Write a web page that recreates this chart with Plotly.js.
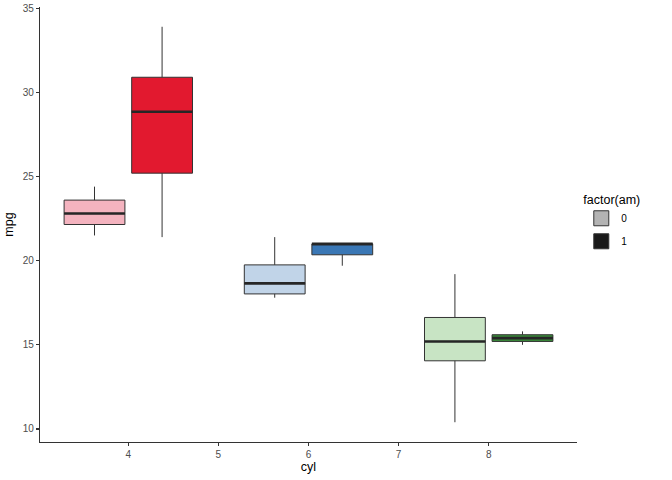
<!DOCTYPE html>
<html>
<head>
<meta charset="utf-8">
<script src="https://cdn.plot.ly/plotly-3.0.1.min.js"></script>
<style>html,body{margin:0;padding:0;background:#fff;}#chart{width:672px;height:480px;}</style>
</head>
<body>
<div id="chart"></div>
<script>
// Categories
const cyl = [4, 6, 8];
const amLevels = ['0', '1'];

// Box statistics for am = 0 (by cyl 4, 6, 8)
const lo_am0  = [21.5, 17.8, 10.4];
const q1_am0  = [22.15, 18.025, 14.05];
const med_am0 = [22.8, 18.65, 15.2];
const q3_am0  = [23.6, 19.75, 16.625];
const hi_am0  = [24.4, 21.4, 19.2];

// Box statistics for am = 1 (by cyl 4, 6, 8)
const lo_am1  = [21.4, 19.7, 15.0];
const q1_am1  = [25.2, 20.35, 15.2];
const med_am1 = [28.85, 21.0, 15.4];
const q3_am1  = [30.9, 21.0, 15.6];
const hi_am1  = [33.9, 21.0, 15.8];

// Fill colours per box
const fill_am0 = ['#f4b3bf', '#c1d4e8', '#c8e4c4'];
const fill_am1 = ['#e2192f', '#3a77b5', '#3a8a3a'];
const legendFill = ['#b3b3b3', '#1a1a1a'];

const yTicks = [10, 15, 20, 25, 30, 35];
const xTicks = [4, 5, 6, 7, 8];

const edge = '#333333';
const traces = [];

function addBoxes(lo, q1, med, q3, hi, fills, grp) {
  for (let i = 0; i < cyl.length; i++) {
    traces.push({
      type: 'box', x: [cyl[i]],
      lowerfence: [lo[i]], q1: [q1[i]], median: [med[i]], q3: [q3[i]], upperfence: [hi[i]],
      fillcolor: fills[i], line: {color: edge, width: 1}, whiskerwidth: 0,
      offsetgroup: grp, alignmentgroup: 'a', showlegend: false, hoverinfo: 'skip'
    });
  }
  // thick median bars (degenerate boxes drawn at the median)
  for (let i = 0; i < cyl.length; i++) {
    traces.push({
      type: 'box', x: [cyl[i]],
      lowerfence: [med[i]], q1: [med[i]], median: [med[i]], q3: [med[i]], upperfence: [med[i]],
      fillcolor: 'rgba(0,0,0,0)', line: {color: '#262626', width: 2.6}, whiskerwidth: 0,
      offsetgroup: grp, alignmentgroup: 'a', showlegend: false, hoverinfo: 'skip'
    });
  }
}
addBoxes(lo_am0, q1_am0, med_am0, q3_am0, hi_am0, fill_am0, '0');
addBoxes(lo_am1, q1_am1, med_am1, q3_am1, hi_am1, fill_am1, '1');

// legend entries (no visible data)
amLevels.forEach((lv, k) => {
  traces.push({
    type: 'scatter', mode: 'markers', x: [null], y: [null], name: lv,
    legendgroup: 'g' + lv,
    marker: {symbol: 'square', size: 15, color: legendFill[k], line: {color: edge, width: 1}},
    showlegend: true, hoverinfo: 'skip'
  });
});

const layout = {
  width: 672, height: 480,
  margin: {l: 40, r: 95, t: 7, b: 38},
  paper_bgcolor: '#ffffff', plot_bgcolor: '#ffffff',
  font: {family: 'Liberation Sans, Arial, sans-serif', color: '#000000'},
  boxmode: 'group', boxgap: 0.25, boxgroupgap: 0.1,
  showlegend: true,
  hovermode: false,
  xaxis: {
    range: [3.02, 8.98], tickvals: xTicks, ticktext: xTicks.map(String),
    showgrid: false, zeroline: false, showline: true, linecolor: '#333333', linewidth: 1.1,
    ticks: 'outside', ticklen: 3, tickcolor: '#333333', tickwidth: 1.1,
    tickfont: {size: 10, color: '#4d4d4d'},
    title: {text: 'cyl', font: {size: 12.5, color: '#000000'}, standoff: 3}
  },
  yaxis: {
    range: [9.225, 35.075], tickvals: yTicks, ticktext: yTicks.map(String),
    showgrid: false, zeroline: false, showline: true, linecolor: '#333333', linewidth: 1.1,
    ticks: 'outside', ticklen: 3, tickcolor: '#333333', tickwidth: 1.1,
    tickfont: {size: 10, color: '#4d4d4d'},
    title: {text: 'mpg', font: {size: 12.5, color: '#000000'}, standoff: 6}
  },
  legend: {
    x: 1.008, y: 0.585, xanchor: 'left', yanchor: 'top',
    title: {text: 'factor(am)', font: {size: 12.5}, side: 'top'},
    font: {size: 10, color: '#000000'},
    bgcolor: 'rgba(0,0,0,0)', tracegroupgap: 4, itemwidth: 30
  }
};

Plotly.newPlot('chart', traces, layout, {displayModeBar: false, staticPlot: true});
</script>
</body>
</html>
